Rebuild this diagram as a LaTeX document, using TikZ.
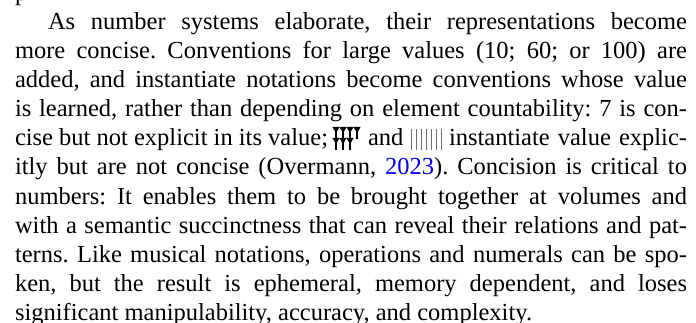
\documentclass[tikz,border=0pt]{standalone}
\usepackage{fontspec}
\setmainfont{Liberation Serif}
\definecolor{citeblue}{RGB}{0,0,255}
\definecolor{tallygray}{RGB}{110,110,110}
\tikzset{
  txtline/.style={anchor=base west, inner sep=0pt, outer sep=0pt,
    font=\fontsize{24.5}{29}\selectfont\frenchspacing},
  wedgehead/.style={fill=black, draw=none},
  wedgestem/.style={draw=black, line width=1.4pt},
  tallymark/.style={draw=tallygray, line width=0.9pt},
}
% a justified line: spaces stretch to fill the given width
\newcommand\jline[2]{\makebox[#1][s]{#2}}
\begin{document}
\begin{tikzpicture}[x=1pt,y=-1pt]
\useasboundingbox (0,0) rectangle (696,323);

% tail of the previous line
\node[txtline] (l0) at (15,0.5) {p};

\node[txtline] (l1) at (48,29.5)
  {\jline{639pt}{As number systems elaborate, their representations become}};
\node[txtline] (l2) at (15,58.6)
  {\jline{672pt}{more concise. Conventions for large values (10; 60; or 100) are}};
\node[txtline] (l3) at (15,87.7)
  {\jline{672pt}{added, and instantiate notations become conventions whose value}};
\node[txtline] (l4) at (15,116.8)
  {\jline{672pt}{is learned, rather than depending on element countability: 7 is con-}};

% line with the cuneiform seven and the tally seven
\node[txtline] (l5a) at (15,145.9)
  {\jline{313pt}{cise but not explicit in its value;}};
\coordinate (cun) at (333,127);
\node[txtline] (l5b) at (368,145.9) {and};
\coordinate (tal) at (411,129);
\node[txtline, anchor=base east] (l5c) at (687,145.9)
  {\jline{238pt}{instantiate value explic-}};

\node[txtline] (l6) at (15,175.0)
  {\jline{672pt}{itly but are not concise (Overmann, \textcolor{citeblue}{2023}). Concision is critical to}};
\node[txtline] (l7) at (15,204.1)
  {\jline{672pt}{numbers: It enables them to be brought together at volumes and}};
\node[txtline] (l8) at (15,233.2)
  {\jline{672pt}{with a semantic succinctness that can reveal their relations and pat-}};
\node[txtline] (l9) at (15,262.3)
  {\jline{672pt}{terns. Like musical notations, operations and numerals can be spo-}};
\node[txtline] (l10) at (15,291.4)
  {\jline{672pt}{ken, but the result is ephemeral, memory dependent, and loses}};
\node[txtline] (l11) at (15,320.5)
  {significant manipulability, accuracy, and complexity.};

% cuneiform 7: four wedges over three
\begin{scope}[shift={(cun)}]
  \foreach \cx in {3,10,17,24} {
    \fill[wedgehead] (\cx-3.6,0) -- (\cx+3.6,0) -- (\cx,6) -- cycle;
    \draw[wedgestem] (\cx,0) -- (\cx,12);
  }
  \foreach \cx in {3,10,17} {
    \fill[wedgehead] (\cx-3.6,11) -- (\cx+3.6,11) -- (\cx,17) -- cycle;
    \draw[wedgestem] (\cx,11) -- (\cx,23);
  }
\end{scope}

% tally 7: seven strokes
\begin{scope}[shift={(tal)}]
  \foreach \i in {0,...,6}
    \draw[tallymark] (\i*5,0) -- (\i*5,21);
\end{scope}
\end{tikzpicture}
\end{document}
